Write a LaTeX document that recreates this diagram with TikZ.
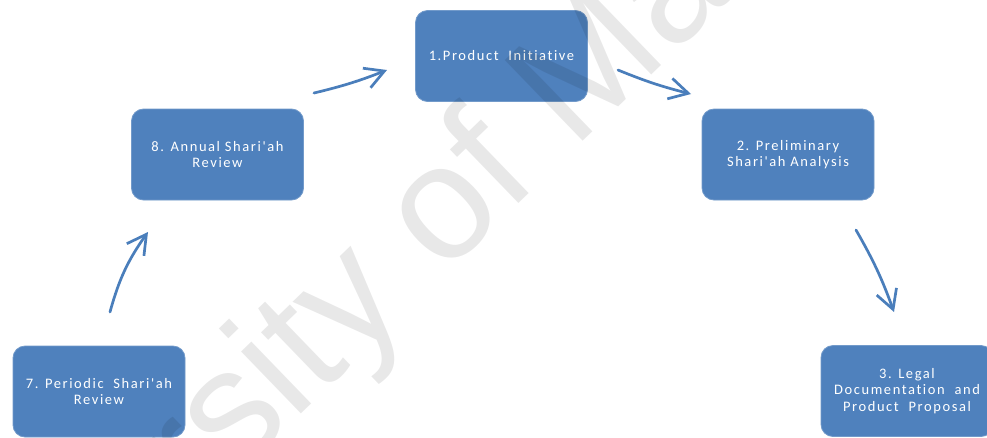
\documentclass[tikz,border=0pt]{standalone}
\usepackage{fontspec}
\setmainfont{Carlito}
\newfontfamily\labelfont{Carlito}[LetterSpace=11,Ligatures={NoCommon}]
\newfontfamily\markfont{Liberation Sans}
\usetikzlibrary{arrows.meta}
\definecolor{boxblue}{HTML}{4F81BD}
\definecolor{arrowblue}{HTML}{4A7EBB}

\begin{document}
\begin{tikzpicture}[x=1pt,y=1pt,
  stepbox/.style={rectangle, rounded corners=12pt, fill=boxblue,
    draw=boxblue!80!white, line width=0.8pt,
    minimum width=172pt, minimum height=91pt, inner sep=0pt,
    text=white, align=center,
    font=\labelfont\fontsize{14.5}{16.5}\selectfont},
  flow/.style={draw=arrowblue, line width=2.7pt, line cap=round,
    -{Straight Barb[length=19pt,width=21pt,line width=2.7pt]}},
  watermark/.style={font=\markfont\fontsize{163}{163}\selectfont, text=black,
    text opacity=0.09, rotate=44, inner sep=0pt}
]
\useasboundingbox (0,0) rectangle (987,-437);
\fill[white] (0,0) rectangle (987,-437);
\begin{scope}
  \clip (0,0) rectangle (987,-437);

  % process steps
  \node[stepbox] (b1) at (501.5,-56)  {1.Product\ \ Initiative};
  \node[stepbox] (b2) at (788,-154.5) {2. Preliminary\\Shari'ah Analysis};
  \node[stepbox] (b3) at (907,-391)   {3. Legal\\Documentation\ \ and\\Product\ \ Proposal};
  \node[stepbox] (b7) at (99,-391.5)  {7. Periodic\ \ Shari'ah\\Review};
  \node[stepbox] (b8) at (217.5,-154.5) {8. Annual Shari'ah\\Review};

  % arrow end points between the steps
  \coordinate (s81) at (314,-93);  \coordinate (e81) at (387,-70);
  \coordinate (s12) at (618,-70);  \coordinate (e12) at (691,-94);
  \coordinate (s23) at (856,-230); \coordinate (e23) at (894,-312);
  \coordinate (s78) at (110,-312); \coordinate (e78) at (148,-232);

  \draw[flow] (s81) to[bend right=4] (e81);
  \draw[flow] (s12) to[bend right=4] (e12);
  \draw[flow] (s23) to[bend left=5] (e23);
  \draw[flow] (s78) to[bend left=10] (e78);

  % diagonal watermark
  \node[watermark] (wm) at (395,-265) {University of Malaya};
\end{scope}
\end{tikzpicture}
\end{document}
